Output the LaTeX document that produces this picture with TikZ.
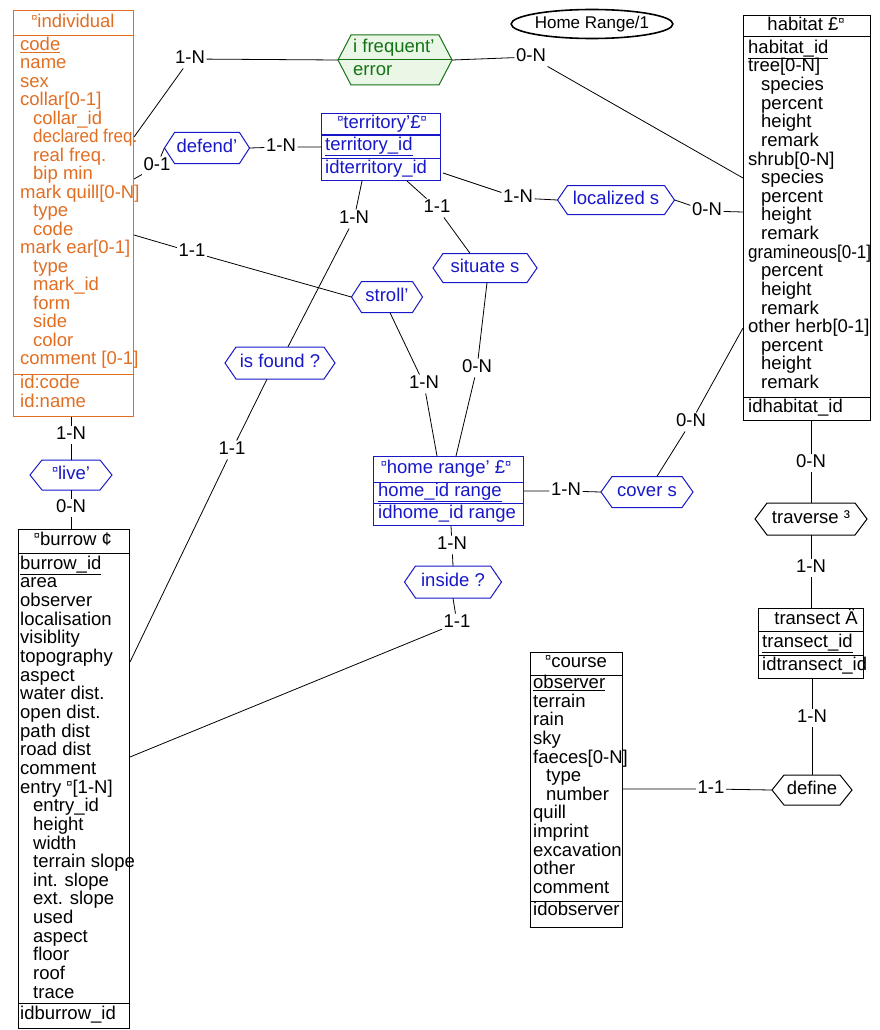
\documentclass[tikz,border=0pt]{standalone}
\usepackage{fontspec}
\setmainfont{Liberation Sans}
\usetikzlibrary{calc,shapes.geometric}
\definecolor{orC}{RGB}{226,110,34}
\definecolor{blC}{RGB}{24,24,200}
\definecolor{grC}{RGB}{20,115,20}
\definecolor{grF}{RGB}{234,247,230}
\newcommand\cur{\raisebox{0.30em}{\fontsize{11}{11}\selectfont ¤}}
\newcommand\I{\hspace*{13pt}}
\newcommand\narrow[1]{\scalebox{0.92}[1]{#1}}
\tikzset{
  attr/.style={anchor=west, inner sep=0pt, text height=12.5pt, text depth=4pt},
  hdr/.style={attr, anchor=center},
  ebox/.style={draw, fill=white, line width=1pt, anchor=north west, inner sep=0pt},
  hexn/.style={rectangle, inner sep=0pt, text height=12.5pt, text depth=4pt},
  hexline/.style={line width=1pt},
  card/.style={inner sep=1.5pt, text height=12.5pt, text depth=3pt},
  conn/.style={draw=black, line width=0.8pt},
  sepl/.style={line width=1pt}
}
% name, x, y, width, height, point depth, colour, fill, text
\newcommand\hexa[9]{%
  \filldraw[draw=#7, fill=#8, hexline] ({#2-#4/2},#3) -- ({#2-#4/2+#6},{#3-#5/2}) -- ({#2+#4/2-#6},{#3-#5/2}) -- ({#2+#4/2},#3) -- ({#2+#4/2-#6},{#3+#5/2}) -- ({#2-#4/2+#6},{#3+#5/2}) -- cycle;
  \node[hexn, minimum width=#4, minimum height=#5, text=#7] (#1) at (#2,#3) {#9};}
\begin{document}
\begin{tikzpicture}[x=1pt,y=-1pt,font=\fontsize{18.5}{18.6}\selectfont]
\useasboundingbox (0,0) rectangle (880,1030);
\fill[white] (0,0) rectangle (880,1030);

% ---------- individual ----------
\node[ebox, draw=orC, minimum width=120, minimum height=406] (ind) at (13,10) {};
\draw[orC, sepl] ($(ind.north west)+(0,26)$) -- ($(ind.north east)+(0,26)$);
\draw[orC, sepl] ($(ind.north west)+(0,364)$) -- ($(ind.north east)+(0,364)$);
\node[hdr, text=orC] (ind-h) at (73,23) {\cur individual};
\foreach \t [count=\i from 0] in {{\underline{code}}, name, sex, {collar[0-1]}, {\I collar\_id}, {\I \narrow{declared freq.}}, {\I real freq.}, {\I bip min}, {mark quill[0-N]}, {\I type}, {\I code}, {mark ear[0-1]}, {\I type}, {\I mark\_id}, {\I form}, {\I side}, {\I color}, {comment [0-1]}}
  \node[attr, text=orC] (ind-\i) at (20,{46+18.5*\i}) {\t};
\node[attr, text=orC] (ind-k1) at (20,384) {id:code};
\node[attr, text=orC] (ind-k2) at (20,403) {id:name};

% ---------- habitat ----------
\node[ebox, minimum width=127, minimum height=405] (hab) at (743,15) {};
\draw[sepl] ($(hab.north west)+(0,22)$) -- ($(hab.north east)+(0,22)$);
\draw[sepl] ($(hab.north west)+(0,382)$) -- ($(hab.north east)+(0,382)$);
\node[hdr] (hab-h) at (806,26) {habitat £\cur};
\foreach \t [count=\i from 0] in {{\underline{habitat\_id}}, {tree[0-N]}, {\I species}, {\I percent}, {\I height}, {\I remark}, {shrub[0-N]}, {\I species}, {\I percent}, {\I height}, {\I remark}, {\narrow{gramineous[0-1]}}, {\I percent}, {\I height}, {\I remark}, {other herb[0-1]}, {\I percent}, {\I height}, {\I remark}}
  \node[attr] (hab-\i) at (748,{49+18.63*\i}) {\t};
\node[attr] (hab-k) at (748,408) {idhabitat\_id};

% ---------- territory ----------
\node[ebox, draw=blC, minimum width=119, minimum height=67] (ter) at (321,113) {};
\draw[blC, sepl] ($(ter.north west)+(0,22)$) -- ($(ter.north east)+(0,22)$);
\draw[blC, sepl] ($(ter.north west)+(0,45)$) -- ($(ter.north east)+(0,45)$);
\node[hdr, text=blC] (ter-h) at (382,124) {\cur territory'£\cur};
\node[attr, text=blC] (ter-1) at (325,146) {\underline{territory\_id}};
\node[attr, text=blC] (ter-2) at (325,169) {idterritory\_id};

% ---------- home range ----------
\node[ebox, draw=blC, minimum width=150, minimum height=69] (hom) at (373,456) {};
\draw[blC, sepl] ($(hom.north west)+(0,26)$) -- ($(hom.north east)+(0,26)$);
\draw[blC, sepl] ($(hom.north west)+(0,47)$) -- ($(hom.north east)+(0,47)$);
\node[hdr, text=blC] (hom-h) at (446,469) {\cur home range' £\cur};
\node[attr, text=blC] (hom-1) at (378,492) {\underline{home\_id range}};
\node[attr, text=blC] (hom-2) at (378,514) {idhome\_id range};

% ---------- burrow ----------
\node[ebox, minimum width=111, minimum height=499] (bur) at (18,529) {};
\draw[sepl] ($(bur.north west)+(0,24)$) -- ($(bur.north east)+(0,24)$);
\draw[sepl] ($(bur.north west)+(0,474)$) -- ($(bur.north east)+(0,474)$);
\node[hdr] (bur-h) at (73,541) {\cur burrow ¢};
\foreach \t [count=\i from 0] in {{\underline{burrow\_id}}, area, observer, localisation, visiblity, topography, aspect, {water dist.}, {open dist.}, {path dist}, {road dist}, comment, {entry \cur[1-N]}, {\I entry\_id}, {\I height}, {\I width}, {\I terrain slope}, {\I int. slope}, {\I ext. slope}, {\I used}, {\I aspect}, {\I floor}, {\I roof}, {\I trace}}
  \node[attr] (bur-\i) at (20,{565+18.65*\i}) {\t};
\node[attr] (bur-k) at (20,1015) {idburrow\_id};

% ---------- course ----------
\node[ebox, minimum width=92, minimum height=275] (cou) at (530,652) {};
\draw[sepl] ($(cou.north west)+(0,23)$) -- ($(cou.north east)+(0,23)$);
\draw[sepl] ($(cou.north west)+(0,249)$) -- ($(cou.north east)+(0,249)$);
\node[hdr] (cou-h) at (576,663) {\cur course};
\foreach \t [count=\i from 0] in {{\underline{observer}}, terrain, rain, sky, {faeces[0-N]}, {\I type}, {\I number}, quill, imprint, excavation, other, comment}
  \node[attr] (cou-\i) at (533,{684.5+18.6*\i}) {\t};
\node[attr] (cou-k) at (533,911) {idobserver};

% ---------- transect ----------
\node[ebox, minimum width=105, minimum height=70] (tra) at (758,608) {};
\draw[sepl] ($(tra.north west)+(0,23)$) -- ($(tra.north east)+(0,23)$);
\draw[sepl] ($(tra.north west)+(0,47)$) -- ($(tra.north east)+(0,47)$);
\node[hdr] (tra-h) at (816,620) {transect Ä};
\node[attr] (tra-1) at (762,643) {\underline{transect\_id}};
\node[attr] (tra-2) at (762,666) {idtransect\_id};

% ---------- Home Range/1 ----------
\node[draw, ellipse, line width=1.6pt, minimum width=130, minimum height=29, inner sep=0pt, font=\fontsize{17}{17}\selectfont] (hr) at (592,24) {Home Range/1};

% ---------- associations ----------
\hexa{freq}{395}{60}{114}{50}{13}{grC}{grF}{}
\node[attr, text=grC] (freq-a) at (353,48) {i frequent'};
\node[attr, text=grC] (freq-b) at (353,71) {error};
\draw[grC, sepl] (freq.west) -- (freq.east);
\hexa{def}{207}{148}{85}{31}{10}{blC}{white}{defend'}
\hexa{loc}{616}{200}{117}{29}{10}{blC}{white}{localized s}
\hexa{str}{387}{297}{71}{31}{10}{blC}{white}{stroll'}
\hexa{sit}{485}{268}{104}{29}{10}{blC}{white}{situate s}
\hexa{isf}{280}{363}{110}{32}{11}{blC}{white}{is found ?}
\hexa{liv}{71}{475}{82}{30}{12}{blC}{white}{\cur live'}
\hexa{cov}{647}{492}{92}{31}{11}{blC}{white}{cover s}
\hexa{ins}{453}{582}{97}{32}{11}{blC}{white}{inside ?}
\hexa{trv}{811}{519}{112}{32}{12}{black}{white}{traverse ³}
\hexa{dfn}{812}{790}{80}{30}{12}{black}{white}{define}

% ---------- cardinalities ----------
\node[card] (k1) at (190,59) {1-N};
\node[card] (k2) at (531,57) {0-N};
\node[card] (k3) at (157,166) {0-1};
\node[card] (k4) at (281,147) {1-N};
\node[card] (k5) at (192,252) {1-1};
\node[card] (k6) at (354,219) {1-N};
\node[card] (k7) at (437,208) {1-1};
\node[card] (k8) at (518,198) {1-N};
\node[card] (k9) at (707,211) {0-N};
\node[card] (k10) at (424,384) {1-N};
\node[card] (k11) at (477,368) {0-N};
\node[card] (k12) at (232,450) {1-1};
\node[card] (k13) at (566,491) {1-N};
\node[card] (k14) at (691,422) {0-N};
\node[card] (k15) at (452,545) {1-N};
\node[card] (k16) at (457,623) {1-1};
\node[card] (k17) at (71,435) {1-N};
\node[card] (k18) at (71,508) {0-N};
\node[card] (k19) at (811,463) {0-N};
\node[card] (k20) at (811,568) {1-N};
\node[card] (k21) at (812,718) {1-N};
\node[card] (k22) at (711,789) {1-1};

% ---------- connectors ----------
\draw[conn] ($(ind.north east)+(0,127)$) -- (k1) -- (freq.west);
\draw[conn] (freq.east) -- (k2) -- ($(hab.north west)+(0,163)$);
\draw[conn] ($(ind.north east)+(0,169)$) -- (k3) -- (def.west);
\draw[conn] (def.east) -- (k4) -- (ter.west);
\draw[conn] ($(ind.north east)+(0,225)$) -- (k5) -- (str.west);
\draw[conn] ($(ter.south west)+(41,0)$) -- (k6) -- ($(isf.north)+(8,0)$);
\draw[conn] ($(ter.south west)+(86,0)$) -- (k7) -- ($(sit.north)+(-15,0)$);
\draw[conn] ($(ter.south east)+(2,-8)$) -- (k8) -- (loc.west);
\draw[conn] (loc.east) -- (k9) -- ($(hab.north west)+(0,197)$);
\draw[conn] ($(str.south)+(3,0)$) -- (k10) -- ($(hom.north west)+(64,0)$);
\draw[conn] ($(sit.south)+(2,0)$) -- (k11) -- ($(hom.north west)+(83,0)$);
\draw[conn] ($(isf.south)+(-13,0)$) -- (k12) -- ($(bur.north east)+(0,133)$);
\draw[conn] (hom.east) -- (k13) -- (cov.west);
\draw[conn] ($(cov.north)+(10,0)$) -- (k14) -- ($(hab.north west)+(0,313)$);
\draw[conn] ($(hom.south west)+(78,0)$) -- (k15) -- (ins.north);
\draw[conn] (ins.south) -- (k16) -- ($(bur.north east)+(0,228)$);
\draw[conn] (liv.north |- ind.south) -- (k17) -- (liv.north);
\draw[conn] (liv.south) -- (k18) -- (liv.south |- bur.north);
\draw[conn] (trv.north |- hab.south) -- (k19) -- (trv.north);
\draw[conn] (trv.south) -- (k20) -- (trv.south |- tra.north);
\draw[conn] (dfn.north |- tra.south) -- (k21) -- (dfn.north);
\draw[conn] ($(cou.north east)+(0,137)$) -- (k22) -- (dfn.west);
\end{tikzpicture}
\end{document}
